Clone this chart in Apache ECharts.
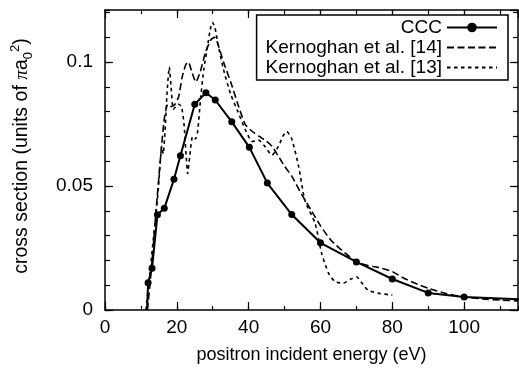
<!DOCTYPE html>
<html><head><meta charset="utf-8">
<script src="https://cdn.jsdelivr.net/npm/echarts@6/dist/echarts.min.js"></script>
<style>html,body{margin:0;padding:0;background:#fff}#c{width:519px;height:369px}</style>
</head><body><div id="c"></div><script>
// CCC (solid line with dots); first and last points are line ends without dots
const cccX = [11.7, 12.0, 13.1, 14.6, 16.5, 19.2, 21.0, 25.0, 28.1, 30.7, 35.3, 40.2, 45.2, 52.0, 60.0, 70.0, 80.0, 90.0, 100.0, 150];
const cccY = [0, 0.011, 0.0168, 0.0384, 0.041, 0.0527, 0.0622, 0.083, 0.0876, 0.0847, 0.0759, 0.0656, 0.0512, 0.0385, 0.0271, 0.0194, 0.0125, 0.0069, 0.0052, 0.0025];
const cccNoDot = [0, 19];

// Kernoghan et al. [14] (long dashes)
const k14X = [11.8, 12.5, 13.5, 14.5, 15.5, 16.5, 17.5, 18.5, 19.5, 20.5, 21.5, 22.5, 23.2, 24.2, 25.3, 26.5, 28, 29.5, 30.5, 31.5, 33, 35, 37, 39, 41, 43, 45, 46.5, 48.3, 50, 52, 55, 57.5, 60, 63, 66.8, 70, 73, 76, 80, 83, 86, 90, 95, 100, 105, 110, 115];
const k14Y = [0, 0.010, 0.027, 0.045, 0.062, 0.077, 0.083, 0.082, 0.083, 0.086, 0.094, 0.099, 0.100, 0.096, 0.092, 0.096, 0.104, 0.109, 0.110, 0.107, 0.100, 0.092, 0.083, 0.075, 0.072, 0.070, 0.068, 0.066, 0.062, 0.058, 0.054, 0.046, 0.040, 0.034, 0.028, 0.023, 0.0195, 0.018, 0.0172, 0.0155, 0.013, 0.011, 0.0088, 0.0066, 0.0052, 0.0045, 0.0040, 0.0037];

// Kernoghan et al. [13] (short dashes)
const k13X = [11.4, 12.3, 13.2, 14.0, 14.8, 15.4, 15.8, 16.2, 16.7, 17.3, 17.9, 18.4, 19.0, 19.7, 20.5, 21.3, 22.0, 22.6, 23.0, 23.6, 24.4, 25.2, 25.8, 26.6, 27.5, 28.5, 29.3, 29.9, 30.6, 31.5, 33, 35, 37, 39, 41, 42.8, 44.5, 46.5, 48.3, 49.5, 50.6, 52, 53.9, 55.7, 58.5, 60.3, 62.2, 64, 66.3, 68.5, 70, 71.5, 73.2, 76, 80];
const k13Y = [0, 0.012, 0.025, 0.036, 0.048, 0.060, 0.066, 0.063, 0.072, 0.088, 0.098, 0.090, 0.081, 0.082, 0.083, 0.082, 0.075, 0.062, 0.055, 0.062, 0.070, 0.069, 0.072, 0.085, 0.097, 0.106, 0.113, 0.116, 0.114, 0.107, 0.097, 0.087, 0.080, 0.073, 0.068, 0.0685, 0.066, 0.0625, 0.066, 0.070, 0.072, 0.069, 0.058, 0.044, 0.035, 0.023, 0.015, 0.0115, 0.0108, 0.0125, 0.0134, 0.011, 0.008, 0.0068, 0.006];

const seriesNames = ['CCC', 'Kernoghan et al. [14]', 'Kernoghan et al. [13]'];
const xTitle = 'positron incident energy (eV)';
const yTitle = 'cross section (units of {pi|π}a{sub|0}{sup|2})';

const FONT = '"Liberation Sans", Arial, Helvetica, sans-serif';
const pair = (xs, ys) => xs.map((x, i) => [x, ys[i]]);
const cccData = cccX.map((x, i) => cccNoDot.includes(i) ? {value: [x, cccY[i]], symbol: 'none'} : [x, cccY[i]]);

const chart = echarts.init(document.getElementById('c'), null, {renderer: 'canvas'});
const gridBox = {left: 105, right: 1, top: 10, bottom: 59, containLabel: false};
const tickStyle = {color: '#000', width: 1.2};
function xAx(gridIndex, position, interval, tickLen, extra) {
  return Object.assign({
    type: 'value', gridIndex, position, min: 0, max: 115, interval,
    axisLine: {show: gridIndex === 0, onZero: false, lineStyle: {color: '#000', width: 1.5}},
    splitLine: {show: false},
    axisTick: {show: true, inside: true, length: tickLen, lineStyle: tickStyle},
    axisLabel: {show: false}
  }, extra || {});
}
function yAx(gridIndex, position, interval, tickLen, extra) {
  return Object.assign({
    type: 'value', gridIndex, position, min: 0, max: 0.121, interval,
    axisLine: {show: gridIndex === 0, onZero: false, lineStyle: {color: '#000', width: 1.5}},
    splitLine: {show: false},
    axisTick: {show: true, inside: true, length: tickLen, lineStyle: tickStyle},
    axisLabel: {show: false}
  }, extra || {});
}
chart.setOption({
  backgroundColor: '#fff',
  animation: false,
  textStyle: {fontFamily: FONT, color: '#000'},
  grid: [Object.assign({}, gridBox), Object.assign({}, gridBox)],
  legend: {
    orient: 'vertical', right: 11, top: 15, align: 'right',
    data: [
      {name: seriesNames[0]},
      {name: seriesNames[1], itemStyle: {opacity: 0}},
      {name: seriesNames[2], itemStyle: {opacity: 0}}
    ],
    itemWidth: 50, itemHeight: 12, itemGap: 1,
    padding: [3, 10, 3, 9],
    borderColor: '#000', borderWidth: 1.5, backgroundColor: '#fff',
    textStyle: {fontFamily: FONT, fontSize: 19, lineHeight: 18, color: '#000'}
  },
  xAxis: [
    xAx(0, 'bottom', 20, 8, {
      axisLabel: {show: true, margin: 8, fontSize: 19, color: '#000', fontFamily: FONT, showMaxLabel: false},
      name: xTitle, nameLocation: 'middle', nameGap: 36,
      nameTextStyle: {fontSize: 18, color: '#000', fontFamily: FONT}
    }),
    xAx(0, 'top', 20, 8),
    xAx(1, 'bottom', 10, 4),
    xAx(1, 'top', 10, 4)
  ],
  yAxis: [
    yAx(0, 'left', 0.05, 8, {
      axisLabel: {show: true, margin: 12, fontSize: 19, color: '#000', fontFamily: FONT, showMaxLabel: false},
      name: yTitle, nameLocation: 'middle', nameGap: 70, nameRotate: 90,
      nameTextStyle: {
        fontSize: 19.5, color: '#000', fontFamily: FONT, lineHeight: 26, padding: [0, 0, 0, 8],
        rich: {
          pi: {fontSize: 19.5, fontStyle: 'italic', fontFamily: 'serif', lineHeight: 26},
          sub: {fontSize: 13, verticalAlign: 'bottom', lineHeight: 26},
          sup: {fontSize: 13, verticalAlign: 'top', lineHeight: 26}
        }
      }
    }),
    yAx(0, 'right', 0.05, 8),
    yAx(1, 'left', 0.01, 5),
    yAx(1, 'right', 0.01, 5)
  ],
  series: [
    {
      name: seriesNames[0], type: 'line', data: cccData,
      xAxisIndex: 0, yAxisIndex: 0,
      symbol: 'circle', symbolSize: 7, showSymbol: true,
      itemStyle: {color: '#000'},
      lineStyle: {color: '#000', width: 2},
      z: 5
    },
    {
      name: seriesNames[1], type: 'line', data: pair(k14X, k14Y),
      xAxisIndex: 0, yAxisIndex: 0,
      symbol: 'none', smooth: 0.2,
      itemStyle: {color: '#000'},
      lineStyle: {color: '#000', width: 1.6, type: [7, 3.5]}
    },
    {
      name: seriesNames[2], type: 'line', data: pair(k13X, k13Y),
      xAxisIndex: 0, yAxisIndex: 0,
      symbol: 'none', smooth: 0.2,
      itemStyle: {color: '#000'},
      lineStyle: {color: '#000', width: 1.6, type: [3.5, 3.5]}
    }
  ]
});
</script></body></html>
